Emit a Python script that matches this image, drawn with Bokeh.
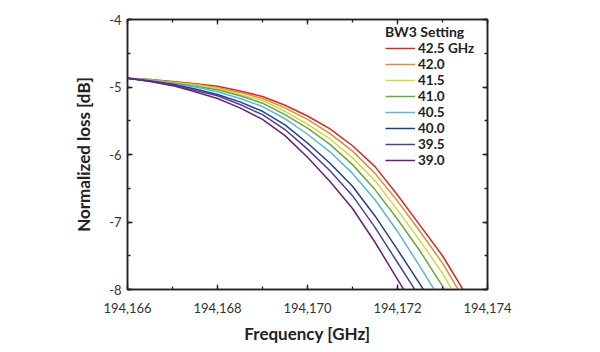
from bokeh.plotting import figure
from bokeh.models import (Range1d, LinearAxis, SingleIntervalTicker,
                          NumeralTickFormatter, CustomJSTickFormatter,
                          Legend, LegendItem)
from bokeh.embed import file_html
from bokeh.resources import INLINE

# ---- data ----
freq = [194166.0, 194166.5, 194167.0, 194167.5, 194168.0, 194168.5,
        194169.0, 194169.5, 194170.0, 194170.5, 194171.0, 194171.5,
        194172.0, 194172.5, 194173.0, 194173.5]

labels = ["42.5 GHz", "42.0", "41.5", "41.0", "40.5", "40.0", "39.5", "39.0"]

loss_425 = [-4.87, -4.89, -4.92, -4.95, -4.99, -5.06, -5.14, -5.27,
            -5.43, -5.62, -5.87, -6.18, -6.60, -7.05, -7.50, -8.05]
loss_420 = [-4.87, -4.89, -4.93, -4.96, -5.01, -5.08, -5.17, -5.31,
            -5.48, -5.69, -5.95, -6.28, -6.69, -7.14, -7.61, -8.17]
loss_415 = [-4.87, -4.90, -4.93, -4.97, -5.02, -5.11, -5.20, -5.36,
            -5.55, -5.77, -6.05, -6.39, -6.82, -7.28, -7.76, -8.33]
loss_410 = [-4.87, -4.90, -4.94, -4.99, -5.04, -5.13, -5.24, -5.41,
            -5.61, -5.85, -6.15, -6.52, -6.96, -7.43, -7.95, -8.50]
loss_405 = [-4.87, -4.90, -4.95, -5.00, -5.07, -5.17, -5.29, -5.47,
            -5.70, -5.96, -6.28, -6.67, -7.14, -7.66, -8.20]
loss_400 = [-4.87, -4.91, -4.96, -5.03, -5.11, -5.22, -5.36, -5.56,
            -5.83, -6.13, -6.47, -6.91, -7.41, -7.92, -8.45]
loss_395 = [-4.87, -4.91, -4.97, -5.05, -5.13, -5.26, -5.41, -5.63,
            -5.92, -6.24, -6.61, -7.08, -7.60, -8.12]
loss_390 = [-4.87, -4.92, -4.98, -5.07, -5.17, -5.31, -5.48, -5.72,
            -6.04, -6.40, -6.80, -7.30, -7.85, -8.40]

series = [loss_425, loss_420, loss_415, loss_410,
          loss_405, loss_400, loss_395, loss_390]
colors = ["#d22b2b", "#e58a3c", "#d9d63c", "#6aa83c",
          "#5bb8cc", "#1f3f8f", "#45449c", "#6b1f7b"]

FONT = "Lato"

p = figure(width=600, height=352, output_backend="svg", toolbar_location=None,
           x_range=Range1d(194166, 194174), y_range=Range1d(-8, -4),
           min_border_left=127, min_border_right=113,
           min_border_top=19, min_border_bottom=63)
p.grid.visible = False
p.outline_line_color = "#222222"
p.outline_line_width = 1.5
p.background_fill_color = "white"
p.border_fill_color = "white"

xt = SingleIntervalTicker(interval=2, num_minor_ticks=2)
yt = SingleIntervalTicker(interval=1, num_minor_ticks=2)

p.xaxis.ticker = xt
p.yaxis.ticker = yt
p.xaxis.formatter = NumeralTickFormatter(format="0,0")
p.yaxis.formatter = NumeralTickFormatter(format="0")

items = []
for vals, col, lab in zip(series, colors, labels):
    r = p.line(freq[:len(vals)], vals, line_color=col, line_width=1.5)
    items.append(LegendItem(label=lab, renderers=[r]))

def style_axis(ax, show_labels=True):
    ax.axis_line_color = "#222222"
    ax.axis_line_width = 1.5
    ax.major_tick_in = 5
    ax.major_tick_out = 0
    ax.minor_tick_in = 3
    ax.minor_tick_out = 0
    ax.major_tick_line_color = "#222222"
    ax.minor_tick_line_color = "#222222"
    ax.major_tick_line_width = 1.3
    ax.minor_tick_line_width = 1.3
    if show_labels:
        ax.major_label_text_font = FONT
        ax.major_label_text_font_size = "13px"
        ax.major_label_text_color = "#333333"
        ax.axis_label_text_font = FONT
        ax.axis_label_text_font_size = "17px"
        ax.axis_label_text_font_style = "bold"
        ax.axis_label_text_color = "#222222"

style_axis(p.xaxis[0])
style_axis(p.yaxis[0])
p.xaxis.axis_label = "Frequency [GHz]"
p.yaxis.axis_label = "Normalized loss [dB]"
p.xaxis.major_label_standoff = 13
p.xaxis.axis_label_standoff = 7
p.yaxis.major_label_standoff = 6
p.yaxis.axis_label_standoff = 12

blank = CustomJSTickFormatter(code="return ''")
top = LinearAxis(ticker=xt, formatter=blank)
right = LinearAxis(ticker=yt, formatter=blank)
style_axis(top, False)
style_axis(right, False)
top.major_label_standoff = 0
right.major_label_standoff = 0
p.add_layout(top, "above")
p.add_layout(right, "right")

legend = Legend(items=items, location=(258, 121), title="BW3 Setting",
                title_text_font=FONT, title_text_font_size="14px",
                title_text_font_style="bold", title_text_color="#222222",
                title_standoff=0,
                label_text_font=FONT, label_text_font_size="13.5px",
                label_text_font_style="bold", label_text_color="#222222",
                glyph_width=30, glyph_height=16, label_height=16,
                label_standoff=3, spacing=0, padding=0, margin=0,
                border_line_color=None, background_fill_alpha=0)
p.add_layout(legend)

open("out.html", "w").write(file_html(p, INLINE))
